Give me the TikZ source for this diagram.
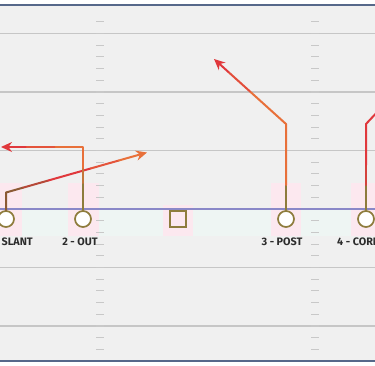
\documentclass[tikz,border=0pt]{standalone}
\usepackage{fontspec}
\setmainfont{Fira Sans}
\usetikzlibrary{arrows.meta,calc}

\definecolor{fieldbg}{HTML}{F0F0F0}
\definecolor{yardline}{HTML}{C6C6C6}
\definecolor{hashgrey}{HTML}{C8C8C8}
\definecolor{sideline}{HTML}{56688A}
\definecolor{scrimmage}{HTML}{8A88C8}
\definecolor{olivebrown}{HTML}{8E7C3C}
\definecolor{routered}{HTML}{E0383C}
\definecolor{routeorange}{HTML}{E8703A}
\definecolor{routebrown}{HTML}{8C5A34}
\definecolor{softpink}{HTML}{FCE8EF}
\definecolor{softmint}{HTML}{EEF5F3}
\definecolor{labelgrey}{HTML}{2C2C2C}

\tikzset{
  player/.style={circle,draw=olivebrown,line width=1.7pt,fill=white,minimum size=16pt,inner sep=0pt},
  center/.style={rectangle,draw=olivebrown,line width=1.7pt,fill=softpink,minimum size=15.5pt,inner sep=0pt},
  route/.style={line width=2pt,line cap=round,line join=round},
  tip/.style={-{Stealth[length=11pt,width=10pt]}},
  lbl/.style={font=\bfseries\fontsize{10.8}{12}\selectfont,text=labelgrey,inner sep=0pt}
}

\begin{document}
\begin{tikzpicture}[x=1pt,y=-1pt]
	\useasboundingbox (0,0) rectangle (375,366);
	\clip (0,0) rectangle (375,366);
	\fill[white] (0,0) rectangle (375,366);
	\fill[fieldbg] (0,5) rectangle (375,361);
	\fill[softmint] (0,209) rectangle (375,236);
	% highlights behind players
	\fill[softpink] (-10,183) rectangle (22,236);
	\fill[softpink] (68,183) rectangle (99,236);
	\fill[softpink] (163,205) rectangle (193,236);
	\fill[softpink] (271,183) rectangle (301,236);
	\fill[softpink] (351,183) rectangle (381,236);
	% yard lines and hashes
	\foreach \y in {33.5,92,150.5,267.5,326}
		\draw[yardline,line width=1.4pt] (0,\y) -- (375,\y);
	\foreach \y in {0,...,29}
		\foreach \x in {96,311}
			\draw[hashgrey,line width=1.1pt] (\x,21.8+\y*11.7) -- (\x+8,21.8+\y*11.7);
	\draw[scrimmage,line width=1.4pt] (0,209) -- (375,209);
	\draw[sideline,line width=1.5pt] (0,5) -- (375,5);
	\draw[sideline,line width=1.5pt] (0,361) -- (375,361);

	% players
	\node[player] (wr1) at (6,219) {};
	\node[player] (wr2) at (83,219) {};
	\node[center] (qb) at (178,219) {};
	\node[player] (wr3) at (286,219) {};
	\node[player] (wr4) at (366,219) {};

	\node[lbl,anchor=east] (l1) at (33,242) {1 - SLANT};
	\node[lbl] (l2) at (80,242) {2 - OUT};
	\node[lbl] (l3) at (282,242) {3 - POST};
	\node[lbl,anchor=west] (l4) at (337,242) {4 - CORNER};

	% route points
	\coordinate (s1) at (6,192.5);
	\coordinate (s1end) at (147,152.5);
	\coordinate (o2) at (83,147);
	\coordinate (o2end) at (1,147);
	\coordinate (p3) at (286,124);
	\coordinate (p3end) at (214,59);
	\coordinate (c4) at (366,124);
	\coordinate (c4end) at (382,107);

	% 1 - slant
	\draw[route,routebrown] (wr1.north) -- (s1) -- ($(s1)!0.12!(s1end)$);
	\draw[route,routebrown!50!routered] ($(s1)!0.12!(s1end)$) -- ($(s1)!0.3!(s1end)$);
	\draw[route,routered] ($(s1)!0.3!(s1end)$) -- ($(s1)!0.6!(s1end)$);
	\draw[route,routered!50!routeorange] ($(s1)!0.6!(s1end)$) -- ($(s1)!0.8!(s1end)$);
	\draw[route,routeorange,tip] ($(s1)!0.8!(s1end)$) -- (s1end);

	% 2 - out
	\draw[route,olivebrown] (wr2.north) -- (83,183);
	\draw[route,olivebrown!40!routeorange] (83,183) -- (83,168);
	\draw[route,routeorange] (83,168) -- (o2) -- ($(o2)!0.35!(o2end)$);
	\draw[route,routeorange!50!routered] ($(o2)!0.35!(o2end)$) -- ($(o2)!0.7!(o2end)$);
	\draw[route,routered,tip] ($(o2)!0.7!(o2end)$) -- (o2end);

	% 3 - post
	\draw[route,olivebrown] (wr3.north) -- (286,185);
	\draw[route,routeorange] (286,185) -- (p3) -- ($(p3)!0.5!(p3end)$);
	\draw[route,routeorange!40!routered] ($(p3)!0.5!(p3end)$) -- ($(p3)!0.8!(p3end)$);
	\draw[route,routered,tip] ($(p3)!0.8!(p3end)$) -- (p3end);

	% 4 - corner
	\draw[route,olivebrown] (wr4.north) -- (366,185);
	\draw[route,routered!85!olivebrown] (366,185) -- (366,165);
	\draw[route,routered] (366,165) -- (c4) -- (c4end);
\end{tikzpicture}
\end{document}
